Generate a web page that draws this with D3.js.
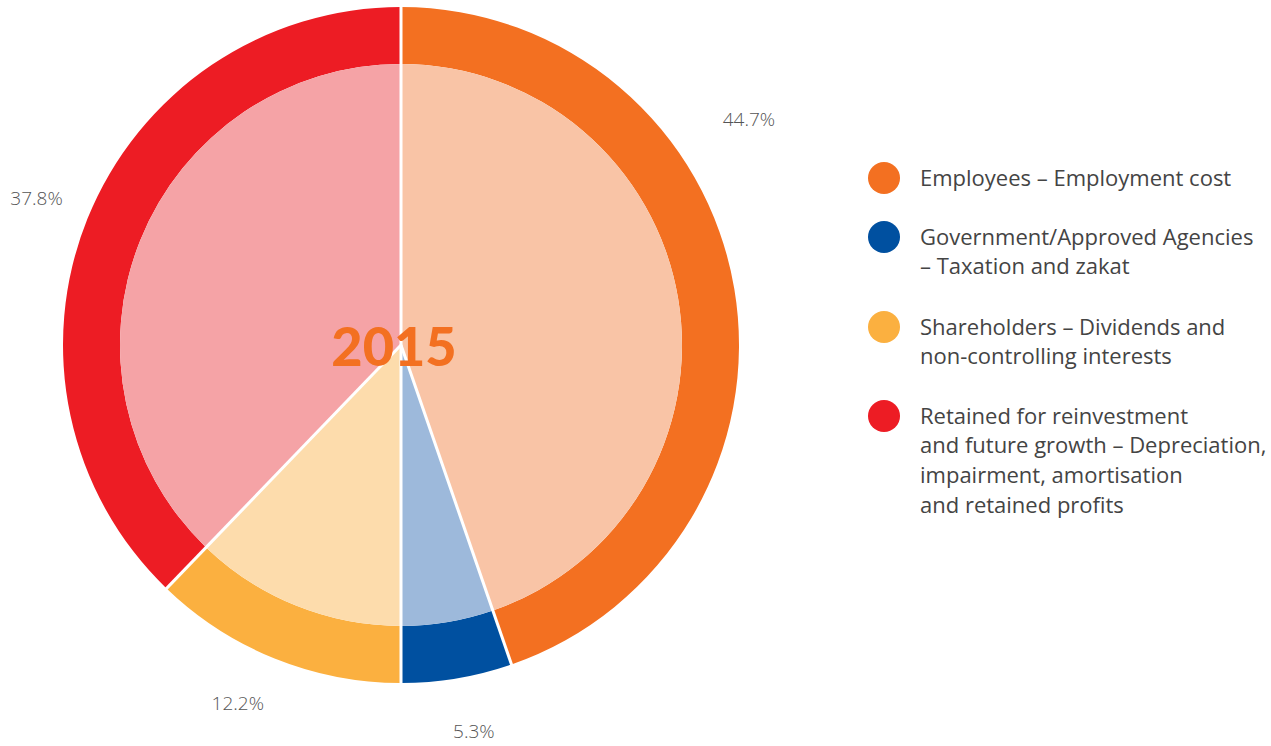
<!DOCTYPE html>
<html>
<head>
<meta charset="utf-8">
<script src="https://cdn.jsdelivr.net/npm/d3@7/dist/d3.min.js"></script>
<style>
  html, body { margin: 0; padding: 0; background: #ffffff; }
  svg { display: block; }
</style>
</head>
<body>
<svg id="chart" width="1271" height="746"></svg>
<script>
// Value distribution, 2015
const categories = [
  "Employees \u2013 Employment cost",
  "Government/Approved Agencies \u2013 Taxation and zakat",
  "Shareholders \u2013 Dividends and non-controlling interests",
  "Retained for reinvestment and future growth \u2013 Depreciation, impairment, amortisation and retained profits"
];
const shares = [44.7, 5.3, 12.2, 37.8];
const legendLines = [
  ["Employees \u2013 Employment cost"],
  ["Government/Approved Agencies", "\u2013 Taxation and zakat"],
  ["Shareholders \u2013 Dividends and", "non-controlling interests"],
  ["Retained for reinvestment", "and future growth \u2013 Depreciation,", "impairment, amortisation", "and retained profits"]
];
const yearLabel = "2015";

const outerColors = ["#f37021", "#0050a0", "#fbb040", "#ed1c24"];
const innerColors = ["#f9c4a6", "#9db9db", "#fddcac", "#f5a3a6"];

const svg = d3.select("#chart");
const cx = 401, cy = 345;
const rOuter = 338, rInner = 281, rLabel = 393;

const pie = d3.pie().sort(null).value(d => d).startAngle(0).endAngle(2 * Math.PI);
const arcs = pie(shares);

const g = svg.append("g").attr("transform", `translate(${cx},${cy})`);

const outerArc = d3.arc().innerRadius(rInner).outerRadius(rOuter);
const innerArc = d3.arc().innerRadius(0).outerRadius(rInner);

g.selectAll("path.outer").data(arcs).join("path")
  .attr("class", "outer")
  .attr("d", outerArc)
  .attr("fill", (d, i) => outerColors[i]);

g.selectAll("path.inner").data(arcs).join("path")
  .attr("class", "inner")
  .attr("d", innerArc)
  .attr("fill", (d, i) => innerColors[i]);

// white separators between slices
g.selectAll("line.sep").data(arcs).join("line")
  .attr("class", "sep")
  .attr("x1", 0).attr("y1", 0)
  .attr("x2", d => Math.sin(d.startAngle) * (rOuter + 2))
  .attr("y2", d => -Math.cos(d.startAngle) * (rOuter + 2))
  .attr("stroke", "#ffffff")
  .attr("stroke-width", 3);

// percentage labels around the ring
const labelAngleShift = [-0.41, -0.02, 0.045, 0];
g.selectAll("text.pct").data(arcs).join("text")
  .attr("class", "pct")
  .attr("x", (d, i) => Math.sin((d.startAngle + d.endAngle) / 2 + labelAngleShift[i]) * (i === 0 ? 415 : rLabel))
  .attr("y", (d, i) => -Math.cos((d.startAngle + d.endAngle) / 2 + labelAngleShift[i]) * (i === 0 ? 415 : rLabel))
  .attr("text-anchor", "middle")
  .attr("dominant-baseline", "central")
  .attr("font-family", "'Open Sans', sans-serif")
  .attr("font-weight", 300)
  .attr("font-size", 19)
  .attr("fill", "#555555")
  .text(d => d.data.toFixed(1) + "%");

// centre year
g.append("text")
  .attr("x", -7).attr("y", 0)
  .attr("text-anchor", "middle")
  .attr("dominant-baseline", "central")
  .attr("font-family", "Lato, 'Open Sans', sans-serif")
  .attr("font-weight", 900)
  .attr("font-size", 54)
  .attr("fill", "#f37021")
  .text(yearLabel);

// legend
const legendY = [178, 237, 327, 416];
const legend = svg.append("g");
categories.forEach((c, i) => {
  legend.append("circle")
    .attr("cx", 884).attr("cy", legendY[i]).attr("r", 16)
    .attr("fill", outerColors[i]);
  const t = legend.append("text")
    .attr("font-family", "'Open Sans', sans-serif")
    .attr("font-size", 22)
    .attr("fill", "#444444");
  legendLines[i].forEach((line, j) => {
    t.append("tspan")
      .attr("x", 920)
      .attr("y", legendY[i] + j * 29.7)
      .attr("dy", "0.35em")
      .text(line);
  });
});
</script>
</body>
</html>
